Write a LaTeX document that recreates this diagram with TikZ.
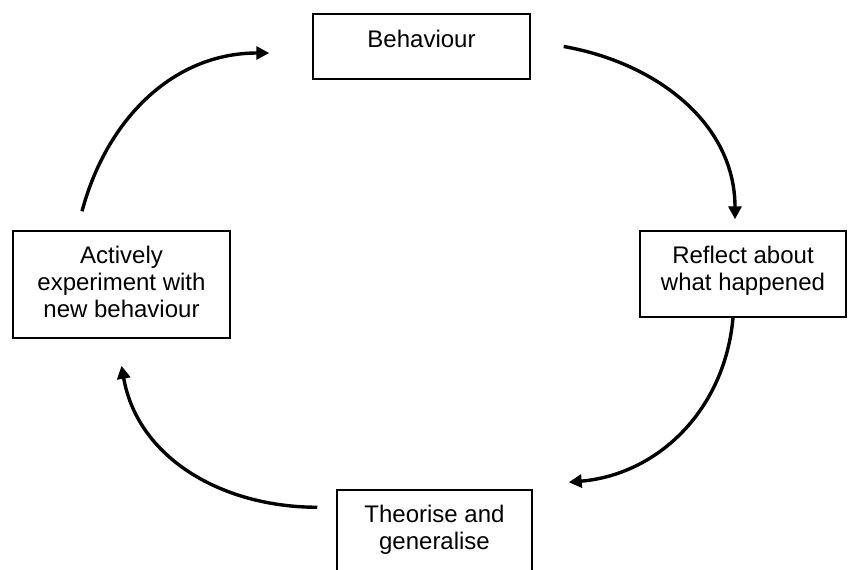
\documentclass[tikz,border=0pt]{standalone}
\usepackage{fontspec}
\setmainfont{Liberation Sans}
\usetikzlibrary{arrows.meta}

\begin{document}
\begin{tikzpicture}[
  x=1pt, y=1pt,
  stage/.style={draw, line width=0.75pt, inner sep=0pt, align=center,
    font=\fontsize{12}{13.5}\selectfont, anchor=base},
  flow/.style={line width=1.7pt, -{Triangle[length=6.5pt,width=6.5pt]}},
]
  \useasboundingbox (0,0) rectangle (424,-284.5);

  % text height/depth measured from the last line of each label
  \node[stage, minimum width=108.5pt, text height=16.5pt, text depth=16pt]
    (behaviour) at (210.75,-23.5) {Behaviour};
  \node[stage, minimum width=103pt, text height=29.5pt, text depth=13.5pt]
    (reflect) at (371.5,-145) {Reflect about\\what happened};
  \node[stage, minimum width=97.5pt, text height=29.5pt, text depth=16.5pt]
    (theorise) at (217.25,-274.5) {Theorise and\\generalise};
  \node[stage, minimum width=108.5pt, text height=43pt, text depth=10.5pt]
    (actively) at (60.75,-158.5) {Actively\\experiment with\\new behaviour};

  \draw[flow] ([xshift=16.5pt]behaviour.east)
    to[out=-10,in=90] ([xshift=-4pt,yshift=5.5pt]reflect.north);
  \draw[flow] ([xshift=-5pt]reflect.south)
    to[out=-95,in=5] ([xshift=18pt,yshift=3.5pt]theorise.north east);
  \draw[flow] ([xshift=-9.5pt,yshift=-9pt]theorise.north west)
    to[out=180,in=-80] ([yshift=-13.5pt]actively.south);
  \draw[flow] ([xshift=-19.75pt,yshift=9.5pt]actively.north)
    to[out=75,in=180] ([xshift=-21.5pt,yshift=-3.25pt]behaviour.west);
\end{tikzpicture}
\end{document}
